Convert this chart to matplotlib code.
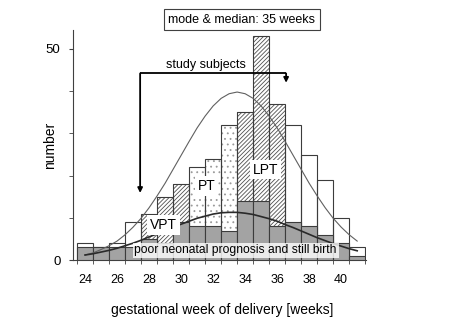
import numpy as np
import matplotlib
matplotlib.use('Agg')
import matplotlib.pyplot as plt

plt.rcParams['font.family'] = ['Liberation Sans', 'DejaVu Sans']
plt.rcParams['hatch.linewidth'] = 0.6

# gestational week of delivery and counts per week
weeks = np.arange(24, 42)
total = [4, 3, 4, 9, 11, 15, 18, 22, 24, 32, 35, 53, 37, 32, 25, 19, 10, 3]
poor = [3, 3, 3, 3, 5, 4, 9, 8, 8, 7, 14, 14, 8, 9, 8, 6, 4, 1]
group = ['', '', '', '', 'VPT', 'VPT', 'VPT', 'PT', 'PT', 'PT',
         'LPT', 'LPT', 'LPT', '', '', '', '', '']

# fitted curves, every half week
curve_x = np.arange(24, 41.01, 0.5)
curve_all = [1.2, 1.7, 2.5, 3.4, 4.5, 6.0, 7.8, 9.9, 12.4, 15.2, 18.2, 21.5,
             24.8, 28.1, 31.3, 34.1, 36.5, 38.3, 39.4, 39.8, 39.4, 38.3, 36.5,
             34.1, 31.3, 28.1, 24.8, 21.5, 18.2, 15.2, 12.4, 9.9, 7.8, 6.0, 4.5]
curve_poor = [1.2, 1.5, 1.9, 2.3, 2.8, 3.4, 4.0, 4.7, 5.5, 6.2, 7.0, 7.8,
              8.5, 9.2, 9.9, 10.4, 10.9, 11.2, 11.3, 11.3, 11.1, 10.8, 10.3,
              9.8, 9.2, 8.4, 7.7, 6.9, 6.1, 5.3, 4.6, 3.9, 3.3, 2.7, 2.2]

edge = '#3c3c3c'
hatches = {'': None, 'VPT': '////////', 'PT': '...', 'LPT': '////////'}
hatch_col = {'': 'white', 'VPT': '#505050', 'PT': '#9a9a9a', 'LPT': '#505050'}

fig = plt.figure(figsize=(4.51, 3.33), dpi=100)
ax = fig.add_axes([0.162, 0.219, 0.6495, 0.691])

grp = np.array(group)
tot = np.array(total)
for g in ['', 'VPT', 'PT', 'LPT']:
    m = grp == g
    # pattern layer, then outline
    ax.bar(weeks[m], tot[m], width=1.0, color='white', edgecolor=hatch_col[g],
           hatch=hatches[g], linewidth=0, zorder=1)
    ax.bar(weeks[m], tot[m], width=1.0, fill=False, edgecolor=edge,
           linewidth=0.8, zorder=2)
ax.bar(weeks, poor, width=1.0, color='#a3a3a3', edgecolor=edge,
       linewidth=0.8, zorder=3)

ax.plot(curve_x, curve_all, color='#606060', lw=0.8, zorder=4)
ax.plot(curve_x, curve_poor, color='#2a2a2a', lw=1.2, zorder=4)

# study subjects bracket
ax.plot([27.44, 36.56], [44.2, 44.2], color='black', lw=1.3, zorder=6,
        solid_capstyle='butt')
ax.annotate('', xy=(27.44, 15.9), xytext=(27.44, 44.2),
            arrowprops=dict(arrowstyle='-|>', lw=1.3, color='black',
                            mutation_scale=7, shrinkA=0, shrinkB=0), zorder=6)
ax.annotate('', xy=(36.56, 42.0), xytext=(36.56, 44.2),
            arrowprops=dict(arrowstyle='-|>', lw=1.3, color='black',
                            mutation_scale=7, shrinkA=0, shrinkB=0), zorder=6)
ax.text(31.53, 46.3, 'study subjects', ha='center', va='center', fontsize=9,
        zorder=7)

lbl_box = dict(boxstyle='square,pad=0.2', fc='white', ec='none')
ax.text(28.9, 8.3, 'VPT', ha='center', va='center', fontsize=10,
        bbox=lbl_box, zorder=8)
ax.text(31.6, 17.6, 'PT', ha='center', va='center', fontsize=10,
        bbox=lbl_box, zorder=8)
ax.text(35.25, 21.4, 'LPT', ha='center', va='center', fontsize=10,
        bbox=lbl_box, zorder=8)
ax.text(33.4, 2.3, 'poor neonatal prognosis and still birth', ha='center',
        va='center', fontsize=8.7, zorder=8,
        bbox=dict(boxstyle='square,pad=0.15', fc='white', ec='none', alpha=0.8))
ax.text(33.8, 56.9, 'mode & median: 35 weeks', ha='center', va='center',
        fontsize=9, clip_on=False, zorder=9,
        bbox=dict(boxstyle='square,pad=0.35', fc='white', ec='#404040', lw=0.8))

ax.set_xlim(23.25, 41.55)
ax.set_ylim(0, 54.5)
for s in ['top', 'right']:
    ax.spines[s].set_visible(False)
for s in ['left', 'bottom']:
    ax.spines[s].set_color('#404040')
    ax.spines[s].set_linewidth(0.8)

ax.set_xticks(np.arange(24, 41, 2))
ax.set_xticks(np.arange(23.5, 42, 1.0), minor=True)
ax.tick_params(axis='x', which='major', length=0, pad=10, labelsize=9)
ax.tick_params(axis='x', which='minor', length=3, direction='out', color='#404040')
ax.set_yticks([0, 50])
ax.set_yticks([10, 20, 30, 40], minor=True)
ax.tick_params(axis='y', which='both', length=3, direction='out',
               color='#404040', labelsize=9.5, pad=6)

ax.set_xlabel('gestational week of delivery [weeks]', fontsize=10)
ax.xaxis.set_label_coords(0.509, -0.217)
ax.xaxis.label.set_va('center')
ax.set_ylabel('number', fontsize=10)
ax.yaxis.set_label_coords(-0.078, 0.5)
ax.yaxis.label.set_va('center')

fig.savefig('out.png', dpi=100)
